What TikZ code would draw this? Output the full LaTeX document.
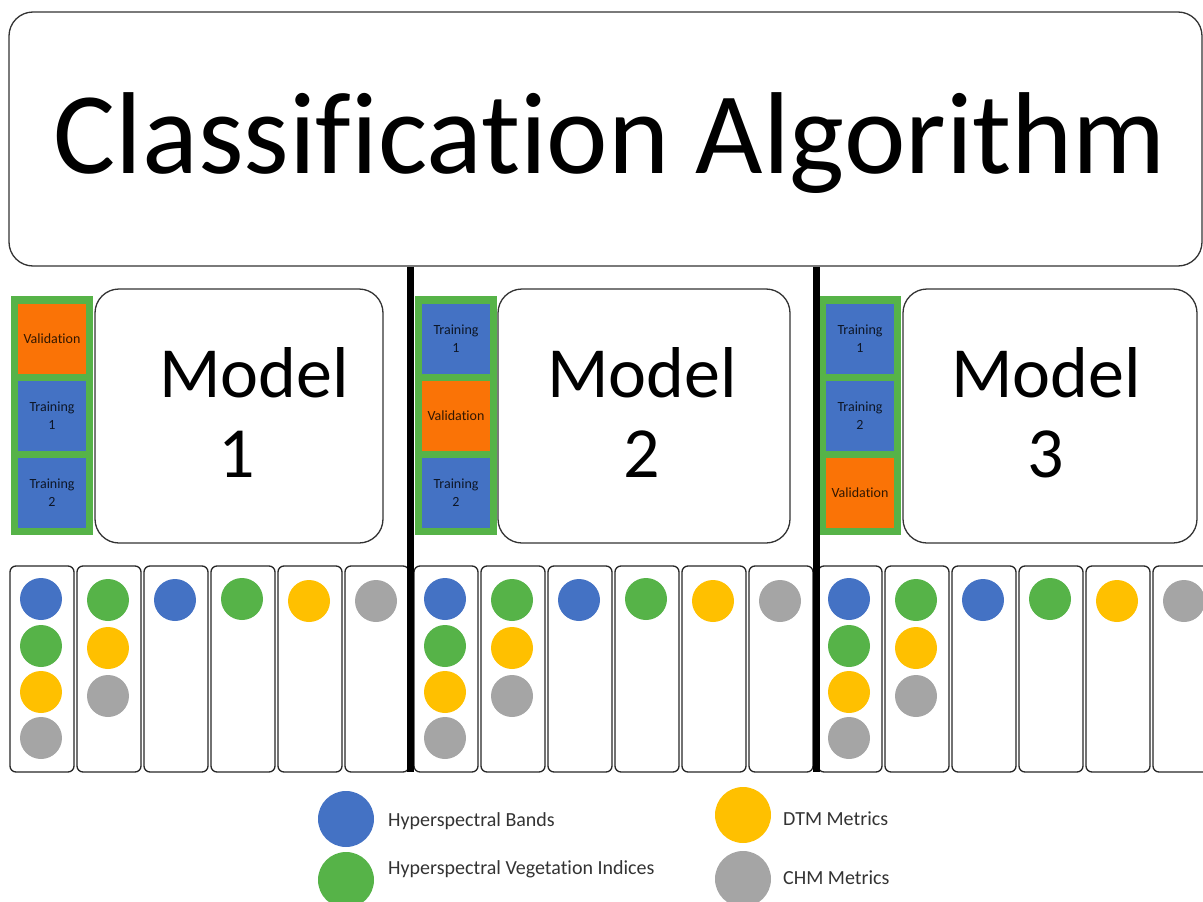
\documentclass[tikz,border=0pt]{standalone}
\usepackage{fontspec}
\setmainfont{Carlito}[Ligatures=NoCommon]
\definecolor{cblue}{HTML}{4472C4}
\definecolor{cgreen}{HTML}{56B348}
\definecolor{corange}{HTML}{FA7306}
\definecolor{cyellow}{HTML}{FFC000}
\definecolor{cgray}{HTML}{A5A5A5}
\begin{document}
\begin{tikzpicture}[x=1pt,y=-1pt,
  rbox/.style={draw=black!80, line width=1.3pt, rounded corners=24pt, fill=white, inner sep=0pt},
  colbox/.style={draw=black!85, line width=1.3pt, rounded corners=6pt, inner sep=0pt, minimum width=64pt, minimum height=206pt},
  dot/.style={circle, inner sep=0pt, minimum size=42pt},
  bigdot/.style={circle, inner sep=0pt, minimum size=56pt},
  cell/.style={inner sep=0pt, minimum width=68pt, minimum height=70pt, align=center,
     font=\fontsize{14}{18}\selectfont, text opacity=0.8},
  stackbox/.style={fill=cgreen, inner sep=0pt, minimum width=82pt, minimum height=239pt},
  modeltxt/.style={anchor=base, font=\fontsize{72}{72}\selectfont},
  legtxt/.style={anchor=base west, inner sep=0pt, text=black!80, font=\fontsize{20}{22}\selectfont},
  divider/.style={line width=7pt, black}
]
\useasboundingbox (0,0) rectangle (1203,902);
\clip (0,0) rectangle (1203,902);

% Top box
\node[rbox, minimum width=1193pt, minimum height=254pt] (algo) at (605.5,139) {};
\node[anchor=base, font=\fontsize{116.5}{118}\selectfont] (title) at (610,173) {Classification Algorithm};

% Sections: stack left, model box left, model box right, model text x, number x
\foreach \s/\sl/\ml/\mr/\tx/\nx/\num in {1/11/95/383/254/237/1, 2/415/498/790/642/642/2, 3/819/903/1197/1046/1046/3}{
  \node[stackbox] (stk\s) at (\sl+41,415.5) {};
  \node[rbox, minimum width=\mr-\ml, minimum height=254pt] (model\s) at ({(\ml+\mr)/2},416) {};
  \node[modeltxt] (mtitle\s) at (\tx,397) {Model};
  \node[modeltxt] (mnum\s) at (\nx,477) {\num};
}
% cells
\foreach \s/\sl/\a/\b/\c in {1/11/V/T1/T2, 2/415/T1/V/T2, 3/819/T1/T2/V}{
  \foreach \k/\y/\lab in {1/339/\a, 2/416/\b, 3/493/\c}{
    \ifnum\pdfstrcmp{\lab}{V}=0
      \node[cell, fill=corange] (cell\s-\k) at (\sl+41,\y) {Validation};
    \else\ifnum\pdfstrcmp{\lab}{T1}=0
      \node[cell, fill=cblue] (cell\s-\k) at (\sl+41,\y) {Training\\1};
    \else
      \node[cell, fill=cblue] (cell\s-\k) at (\sl+41,\y) {Training\\2};
    \fi\fi
  }
}

% Columns with dots
\foreach \s in {0,1,2}{
  \foreach \i in {0,...,5}{
    \pgfmathsetmacro{\cx}{10+67*\i+404*\s+32}
    \node[colbox] (col\s-\i) at (\cx,669) {};
  }
  \pgfmathsetmacro{\xa}{10+404*\s+31}
  \pgfmathsetmacro{\xb}{10+67+404*\s+31}
  \node[dot, fill=cblue]   (d\s-0a) at (\xa,599) {};
  \node[dot, fill=cgreen]  (d\s-0b) at (\xa,646) {};
  \node[dot, fill=cyellow] (d\s-0c) at (\xa,692) {};
  \node[dot, fill=cgray]   (d\s-0d) at (\xa,738) {};
  \node[dot, fill=cgreen]  (d\s-1a) at (\xb,600) {};
  \node[dot, fill=cyellow] (d\s-1b) at (\xb,648) {};
  \node[dot, fill=cgray]   (d\s-1c) at (\xb,696) {};
  \pgfmathsetmacro{\xc}{10+67*2+404*\s+31}
  \pgfmathsetmacro{\xd}{10+67*3+404*\s+31}
  \pgfmathsetmacro{\xe}{10+67*4+404*\s+31}
  \pgfmathsetmacro{\xf}{10+67*5+404*\s+31}
  \node[dot, fill=cblue]   (d\s-2) at (\xc,600) {};
  \node[dot, fill=cgreen]  (d\s-3) at (\xd,599) {};
  \node[dot, fill=cyellow] (d\s-4) at (\xe,601) {};
  \node[dot, fill=cgray]   (d\s-5) at (\xf,601) {};
}

% Dividers
\coordinate (v1) at (410,772);
\coordinate (v2) at (816,772);
\draw[divider] (algo.south -| v1) -- (v1);
\draw[divider] (algo.south -| v2) -- (v2);

% Legend
\node[bigdot, fill=cblue]   (lb) at (346,819) {};
\node[bigdot, fill=cgreen]  (lg) at (346,880) {};
\node[bigdot, fill=cyellow] (ly) at (743,815) {};
\node[bigdot, fill=cgray]   (lc) at (743,879) {};
\node[legtxt] (tb) at (388,826) {Hyperspectral Bands};
\node[legtxt] (tg) at (388,874) {Hyperspectral Vegetation Indices};
\node[legtxt] (ty) at (783,825) {DTM Metrics};
\node[legtxt] (tc) at (783,884) {CHM Metrics};
\end{tikzpicture}
\end{document}
